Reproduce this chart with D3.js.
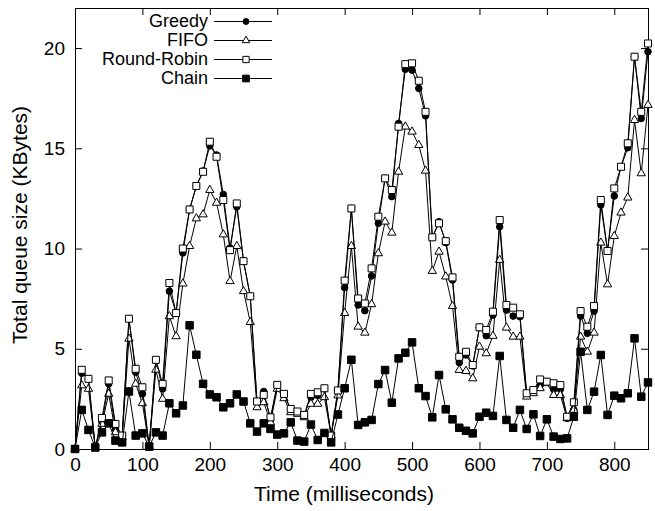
<!DOCTYPE html>
<html>
<head>
<meta charset="utf-8">
<script src="https://cdn.jsdelivr.net/npm/d3@7"></script>
<style>
  html, body { margin: 0; padding: 0; background: #fff; }
  svg { display: block; }
  text { font-family: "Liberation Sans", Arial, Helvetica, sans-serif; fill: #000; }
</style>
</head>
<body>
<svg id="chart" width="655" height="511"></svg>
<script>
const times = [0,10,20,30,40,50,60,70,80,90,100,110,120,130,140,150,160,170,180,190,
  200,210,220,230,240,250,260,270,280,290,300,310,320,330,340,350,360,370,380,390,
  400,410,420,430,440,450,460,470,480,490,500,510,520,530,540,550,560,570,580,590,
  600,610,620,630,640,650,660,670,680,690,700,710,720,730,740,750,760,770,780,790,
  800,810,820,830,840,850];

const greedy = [0,3.78,3.5,0.08,1.33,3.25,1.0,0.67,6.5,3.83,2.75,0.12,4.42,3.0,7.87,6.78,9.78,11.95,13.12,13.87,
  15.12,14.67,12.7,10.03,12.08,9.37,7.62,2.33,2.87,1.45,3.2,2.67,2.0,1.83,1.67,2.58,2.67,3.0,0.67,2.92,
  8.05,12.0,7.18,6.9,8.63,11.26,13.5,12.59,16.24,18.94,18.9,17.99,16.62,10.56,11.34,10.29,8.43,4.31,4.69,4.14,
  6.07,5.65,6.68,11.09,6.93,6.63,6.6,2.73,2.94,3.19,3.36,2.98,2.98,1.53,1.95,6.63,5.77,6.88,12.17,9.88,
  12.62,14.08,15.03,19.57,16.49,19.82];

const fifo = [0,3.17,3.0,0.08,1.25,2.75,0.83,0.58,5.5,3.25,2.28,0.12,3.95,2.5,6.62,5.62,8.25,10.12,11.5,11.7,
  12.92,12.28,10.7,8.37,10.12,7.87,6.33,2.08,2.33,1.33,3.0,2.53,1.83,1.75,1.58,2.25,2.25,2.58,0.67,2.67,
  6.78,10.12,6.1,5.8,7.22,9.76,11.34,10.79,13.83,16.08,15.83,15.16,13.88,8.88,9.84,8.6,7.13,3.94,3.89,3.52,
  5.1,4.77,5.64,9.43,6.05,5.6,5.6,2.61,2.78,3.03,3.28,2.69,2.69,1.53,1.95,5.6,4.85,5.8,10.29,8.21,
  10.62,11.79,12.54,16.41,13.75,17.16];

const roundRobin = [0,3.95,3.5,0.08,1.55,3.42,1.25,0.67,6.5,4.0,3.08,0.12,4.45,3.25,8.28,6.78,10.0,11.95,13.12,13.83,
  15.33,14.58,12.42,9.92,12.25,9.37,7.62,2.37,2.7,1.58,3.2,2.75,2.0,1.87,1.7,2.75,2.83,3.03,0.67,2.92,
  8.4,12.0,7.51,7.26,9.01,11.59,13.5,12.92,16.08,19.2,19.24,18.37,16.82,10.56,11.26,10.37,8.56,4.6,4.85,4.19,
  6.07,5.94,6.85,11.42,7.18,7.05,6.72,2.78,2.94,3.47,3.36,3.28,3.19,1.61,2.33,6.88,6.1,7.13,12.42,9.88,
  13.0,14.08,15.25,19.57,16.82,20.23];

const chain = [0,1.95,0.95,0.08,0.83,1.28,0.42,0.33,2.87,0.67,0.78,0.12,0.83,0.67,2.28,1.78,2.17,6.17,4.7,3.25,
  2.72,2.58,2.08,2.28,2.72,2.37,1.28,0.87,1.28,1.0,0.72,0.78,1.33,0.42,0.37,1.22,0.45,0.8,0.33,1.72,
  3.03,4.45,1.2,1.33,1.45,3.24,3.94,2.31,4.52,4.8,5.32,3.03,2.64,1.58,3.69,1.98,1.48,1.06,0.91,0.78,
  1.61,1.81,1.65,4.64,1.45,1.06,1.95,1.0,1.73,0.65,1.48,0.62,0.5,0.53,1.61,4.85,1.95,2.86,4.69,1.7,
  2.66,2.53,2.78,5.52,2.61,3.32];

const seriesNames = ["Greedy", "FIFO", "Round-Robin", "Chain"];
const xTicks = [0,100,200,300,400,500,600,700,800];
const yTicks = [0,5,10,15,20];
const xTitle = "Time (milliseconds)";
const yTitle = "Total queue size (KBytes)";

const seriesData = [greedy, fifo, roundRobin, chain];
const markerDefs = [
  { type: d3.symbolCircle, size: 34, fill: "#000", stroke: "#000" },
  { type: d3.symbolTriangle, size: 30, fill: "#fff", stroke: "#000" },
  { type: d3.symbolSquare, size: 49, fill: "#fff", stroke: "#000" },
  { type: d3.symbolSquare, size: 56, fill: "#000", stroke: "#000" }
];

const svg = d3.select("#chart");
const W = 655, H = 511;
const margin = { left: 75, right: 7, top: 8, bottom: 62 };
const iw = W - margin.left - margin.right;
const ih = H - margin.top - margin.bottom;

const x = d3.scaleLinear().domain([0, 850]).range([margin.left, margin.left + iw]);
const y = d3.scaleLinear().domain([0, 22]).range([margin.top + ih, margin.top]);

const fsTick = 19;
const fsTitle = 21;
const tickLen = 7;

const bottomAxis = d3.axisBottom(x).tickValues(xTicks).tickSizeInner(-tickLen).tickSizeOuter(0).tickPadding(10);
const topAxis = d3.axisTop(x).tickValues(xTicks).tickSizeInner(-tickLen).tickSizeOuter(0).tickFormat("");
const leftAxis = d3.axisLeft(y).tickValues(yTicks).tickSizeInner(-tickLen).tickSizeOuter(0).tickPadding(10);
const rightAxis = d3.axisRight(y).tickValues(yTicks).tickSizeInner(-tickLen).tickSizeOuter(0).tickFormat("");

function styleAxis(g) {
  g.select(".domain").remove();
  g.selectAll(".tick line").attr("stroke", "#000").attr("stroke-width", 1);
  g.selectAll(".tick text").attr("font-size", fsTick).attr("font-family", "Liberation Sans, Arial, sans-serif").attr("fill", "#000");
}

svg.append("g").attr("transform", `translate(0,${margin.top + ih})`).call(bottomAxis).call(styleAxis)
  .selectAll(".tick text").attr("dy", "0.65em");
svg.append("g").attr("transform", `translate(0,${margin.top})`).call(topAxis).call(styleAxis);
svg.append("g").attr("transform", `translate(${margin.left},0)`).call(leftAxis).call(styleAxis);
svg.append("g").attr("transform", `translate(${margin.left + iw},0)`).call(rightAxis).call(styleAxis);

svg.append("rect")
  .attr("x", margin.left + 0.5).attr("y", margin.top + 0.5)
  .attr("width", iw).attr("height", ih)
  .attr("fill", "none").attr("stroke", "#000").attr("stroke-width", 1);

svg.append("text")
  .attr("x", 344).attr("y", 501)
  .attr("text-anchor", "middle").attr("font-size", fsTitle).text(xTitle);
svg.append("text")
  .attr("transform", `translate(27,225) rotate(-90)`)
  .attr("text-anchor", "middle").attr("font-size", fsTitle).text(yTitle);

const line = d3.line().x((d, i) => x(times[i])).y(d => y(d));
const plot = svg.append("g");
seriesData.forEach((vals, si) => {
  const g = plot.append("g");
  g.append("path").datum(vals).attr("d", line)
    .attr("fill", "none").attr("stroke", "#000").attr("stroke-width", 1);
  const m = markerDefs[si];
  const sym = d3.symbol().type(m.type).size(m.size);
  g.selectAll("path.pt").data(vals).enter().append("path")
    .attr("class", "pt")
    .attr("d", sym)
    .attr("transform", (d, i) => `translate(${x(times[i])},${y(d)})`)
    .attr("fill", m.fill).attr("stroke", m.stroke).attr("stroke-width", 1);
});

const legRows = [21, 40, 59, 78];
const legTextX = 208, legLine1 = 214, legLine2 = 272, legMark = 246;
seriesNames.forEach((name, i) => {
  const ly = legRows[i];
  svg.append("text").attr("x", legTextX).attr("y", ly).attr("dy", "0.35em")
    .attr("text-anchor", "end").attr("font-size", 18).text(name);
  svg.append("line").attr("x1", legLine1).attr("x2", legLine2).attr("y1", ly + 0.5).attr("y2", ly + 0.5)
    .attr("stroke", "#000").attr("stroke-width", 1);
  const m = markerDefs[i];
  svg.append("path").attr("d", d3.symbol().type(m.type).size(m.size * 0.8)())
    .attr("transform", `translate(${legMark},${ly + 0.5})`)
    .attr("fill", m.fill).attr("stroke", m.stroke).attr("stroke-width", 1);
});
</script>
</body>
</html>
